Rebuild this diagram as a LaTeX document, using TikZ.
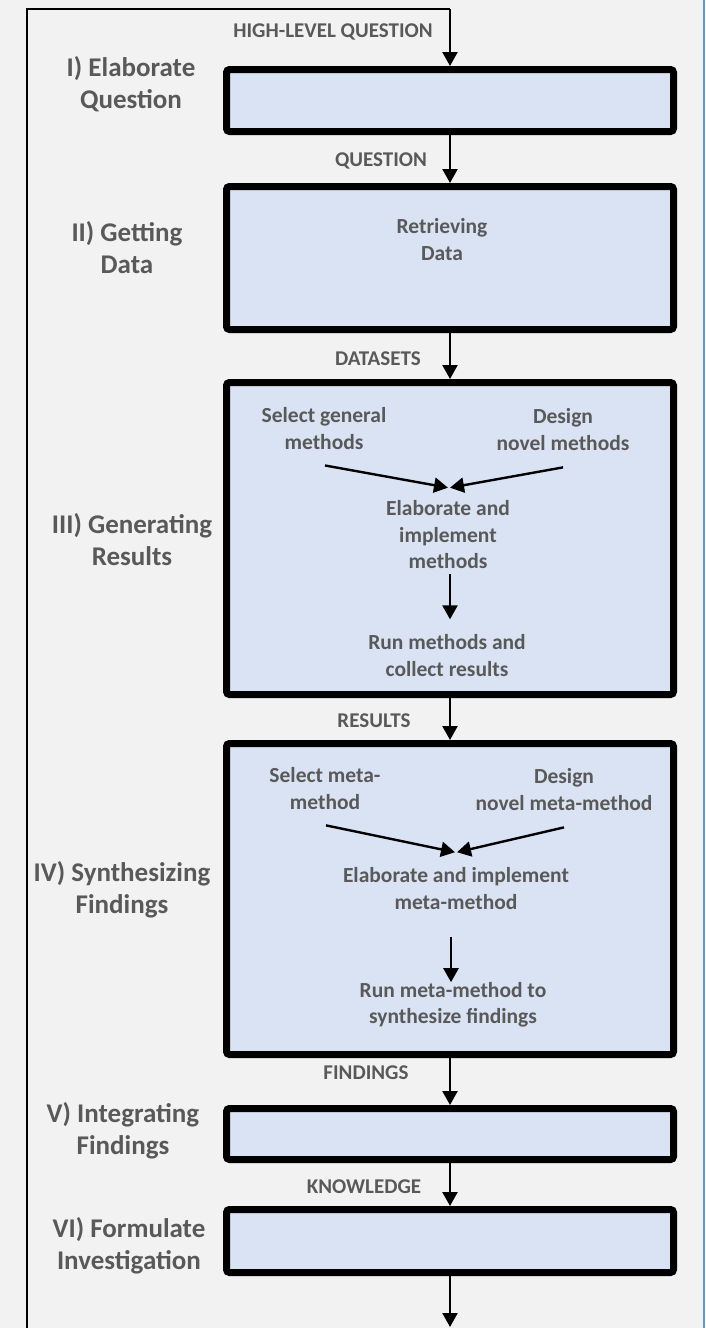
\documentclass[tikz,border=0pt]{standalone}
\usepackage{fontspec}
\setmainfont{Carlito}
\usetikzlibrary{arrows.meta}
\definecolor{pagebg}{HTML}{F2F2F2}
\definecolor{stagefill}{HTML}{DAE3F3}
\definecolor{inktext}{HTML}{595959}
\definecolor{sideline}{HTML}{5B9BD5}
\begin{document}
\begin{tikzpicture}[x=1pt,y=-1pt,
  stage/.style={draw=black, line width=7pt, fill=stagefill, rounded corners=3pt,
                minimum width=447pt, inner sep=0pt},
  phase/.style={text=inktext, align=center, inner sep=0pt,
                font=\bfseries\fontsize{27}{32}\selectfont},
  flow/.style={text=inktext, inner sep=0pt, font=\bfseries\fontsize{21}{25}\selectfont},
  task/.style={text=inktext, align=center, inner sep=0pt,
               font=\bfseries\fontsize{21.5}{26.5}\selectfont},
  arr/.style={draw=black, line width=2.4pt, -{Triangle[length=14pt,width=15pt]}},
  frame/.style={draw=black, line width=2pt}]

% canvas and page edge
\fill[pagebg] (0,0) rectangle (705,1328);
\useasboundingbox (0,0) rectangle (705,1328);
\coordinate (edgeT) at (703.5,0);
\coordinate (edgeB) at (703.5,1328);
\draw[sideline, line width=2pt] (edgeT) -- (edgeB);

% stage boxes
\node[stage, minimum height=62pt]  (b1) at (450,100.5) {};
\node[stage, minimum height=143pt] (b2) at (450,258) {};
\node[stage, minimum height=312pt] (b3) at (450,538.5) {};
\node[stage, minimum height=311pt] (b4) at (450,899) {};
\node[stage, minimum height=51pt]  (b5) at (450,1134) {};
\node[stage, minimum height=63pt]  (b6) at (450,1241) {};

% phase labels on the left
\node[phase] (p1) at (131,84.5)   {I) Elaborate\\Question};
\node[phase] (p2) at (127,248)    {II) Getting\\Data};
\node[phase] (p3) at (132,539.5)  {III) Generating\\Results};
\node[phase] (p4) at (122,890)    {IV) Synthesizing\\Findings};
\node[phase] (p5) at (123,1131)   {V) Integrating\\Findings};
\node[phase] (p6) at (129,1245.5) {VI) Formulate\\Investigation};

% outer frame and the main flow
\coordinate (frameBL) at (27,1328);
\coordinate (frameTR) at (450,9);
\coordinate (exitpt) at (450,1327);
\draw[frame] (frameBL) |- (frameTR);
\draw[arr] (frameTR) -- (b1.north);
\draw[arr] (b1.south) -- (b2.north);
\draw[arr] (b2.south) -- (b3.north);
\draw[arr] (b3.south) -- (b4.north);
\draw[arr] (b4.south) -- (b5.north);
\draw[arr] (b5.south) -- (b6.north);
\draw[arr] (b6.south) -- (exitpt);

% flow labels
\node[flow] (f0) at (333,32)   {HIGH-LEVEL QUESTION};
\node[flow] (f1) at (381,161)  {QUESTION};
\node[flow] (f2) at (378,359)  {DATASETS};
\node[flow] (f3) at (374,721)  {RESULTS};
\node[flow] (f4) at (366,1073) {FINDINGS};
\node[flow] (f5) at (364,1187) {KNOWLEDGE};

% stage II content
\node[task] (rd) at (442,239.5) {Retrieving\\Data};

% stage III content
\node[task] (sg) at (324,428.4) {Select general\\methods};
\node[task] (dn) at (563,429.3) {Design\\novel methods};
\node[task] (em) at (448,535)   {Elaborate and\\implement\\methods};
\node[task] (rm) at (447,655.4) {Run methods and\\collect results};
\draw[arr] ([shift={(1,16)}]sg.south) -- ([shift={(0,-13)}]em.north);
\draw[arr] ([shift={(0,17)}]dn.south) -- ([shift={(2,-13)}]em.north);
\draw[arr] ([shift={(2,5)}]em.south) -- ([shift={(3,-15)}]rm.north);

% stage IV content
\node[task] (sm)  at (325,788.3)  {Select meta-\\method};
\node[task] (dm)  at (564,789.3)  {Design\\novel meta-method};
\node[task] (im)  at (456,888.3)  {Elaborate and implement\\meta-method};
\node[task] (rmm) at (453,1005)   {Run meta-method to\\synthesize findings};
\draw[arr] ([shift={(1,16)}]sm.south) -- ([shift={(-1,-15)}]im.north);
\draw[arr] ([shift={(0,17)}]dm.south) -- ([shift={(1,-15)}]im.north);
\draw[arr] ([shift={(-5,28)}]im.south) -- ([shift={(-2,0)}]rmm.north);
\end{tikzpicture}
\end{document}
